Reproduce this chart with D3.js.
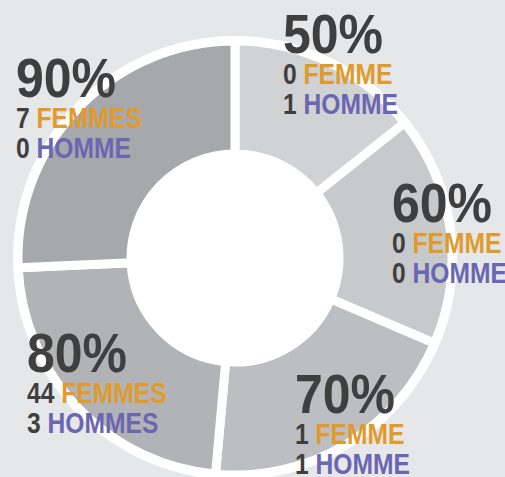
<!DOCTYPE html>
<html>
<head>
<meta charset="utf-8">
<script src="https://cdn.jsdelivr.net/npm/d3@7"></script>
<style>
  html, body { margin: 0; padding: 0; background: #e6e7e8; }
  svg { display: block; }
  text { font-family: "Liberation Sans Narrow", "Arial Narrow", "Liberation Sans", sans-serif; font-weight: bold; }
</style>
</head>
<body>
<div id="chart"></div>
<script>
// data
var taux = [50, 60, 70, 80, 90];
var femmes = [0, 0, 1, 44, 7];
var hommes = [1, 0, 1, 3, 0];
var colors = ["#d1d2d4", "#c8c9cb", "#bdbec1", "#b2b3b6", "#a7a8ab"];

var width = 505, height = 477;
var cx = 235, cy = 258;

// label layout (offset from centre, left edge / percent baseline)
var labelPos = [[48, -205], [157, -36], [60, 155], [-208, 114], [-219, -161]];

var svg = d3.select("#chart").append("svg")
    .attr("width", width)
    .attr("height", height);

var g = svg.append("g")
    .attr("transform", "translate(" + cx + "," + cy + ")");

g.append("circle")
    .attr("r", 222)
    .attr("fill", "#fff");

var pie = d3.pie().sort(null).value(function (d) { return d; });
var arc = d3.arc().innerRadius(104).outerRadius(217);

g.selectAll("path")
    .data(pie(taux))
    .enter().append("path")
    .attr("d", arc)
    .attr("fill", function (d, i) { return colors[i]; })
    .attr("stroke", "#fff")
    .attr("stroke-width", 9)
    .attr("stroke-linejoin", "miter");

function plural(n, word) {
    return n > 1 ? word + "S" : word;
}

var labels = g.selectAll(".lab")
    .data(taux)
    .enter().append("g")
    .attr("class", "lab")
    .attr("transform", function (d, i) {
        return "translate(" + labelPos[i][0] + "," + labelPos[i][1] + ")";
    });

labels.append("text")
    .attr("font-size", 56)
    .attr("fill", "#3f3f3f")
    .attr("textLength", 100)
    .attr("lengthAdjust", "spacingAndGlyphs")
    .text(function (d) { return d + "%"; });

var l2 = labels.append("text")
    .attr("class", "sub")
    .attr("y", 31)
    .attr("font-size", 29)
    .attr("fill", "#3f3f3f");
l2.append("tspan").text(function (d, i) { return femmes[i] + " "; });
l2.append("tspan").attr("fill", "#e09b2d")
    .text(function (d, i) { return plural(femmes[i], "FEMME"); });

var l3 = labels.append("text")
    .attr("class", "sub")
    .attr("y", 61)
    .attr("font-size", 29)
    .attr("fill", "#3f3f3f");
l3.append("tspan").text(function (d, i) { return hommes[i] + " "; });
l3.append("tspan").attr("fill", "#6b66b1")
    .text(function (d, i) { return plural(hommes[i], "HOMME"); });

// condense the sub lines (no narrow font available)
g.selectAll(".sub").each(function () {
    var len = this.getComputedTextLength();
    d3.select(this)
        .attr("textLength", len * 0.85)
        .attr("lengthAdjust", "spacingAndGlyphs");
});
</script>
</body>
</html>
